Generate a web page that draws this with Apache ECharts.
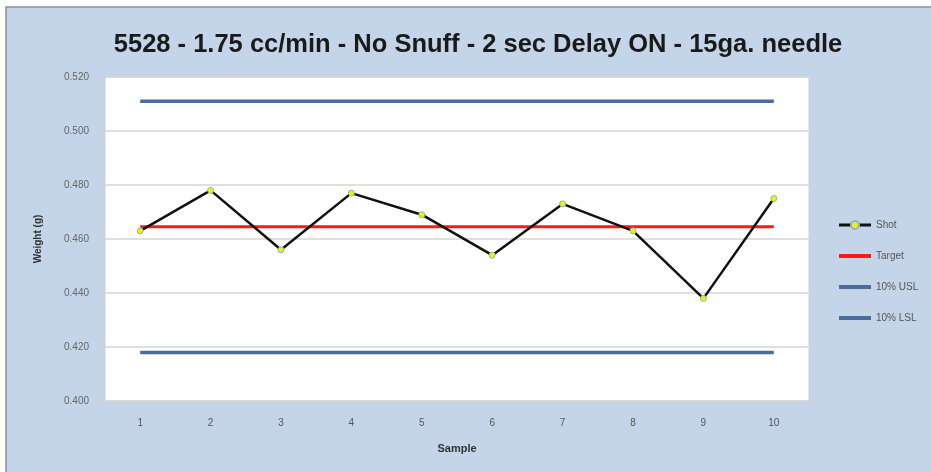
<!DOCTYPE html>
<html>
<head>
<meta charset="utf-8">
<script src="https://cdn.jsdelivr.net/npm/echarts@6/dist/echarts.min.js"></script>
<style>
  html, body { margin: 0; padding: 0; background: #fff; }
  #chart { width: 931px; height: 472px; }
</style>
</head>
<body>
<div id="chart"></div>
<script>
// data
var samples = ['1', '2', '3', '4', '5', '6', '7', '8', '9', '10'];
var shot = [0.463, 0.478, 0.456, 0.477, 0.469, 0.454, 0.473, 0.463, 0.438, 0.475];
var targetVal = 0.4645;
var uslVal = 0.511;
var lslVal = 0.418;

var target = samples.map(function () { return targetVal; });
var usl = samples.map(function () { return uslVal; });
var lsl = samples.map(function () { return lslVal; });

var chart = echarts.init(document.getElementById('chart'));

var noDot = { color: 'transparent', borderWidth: 0 };

var option = {
    backgroundColor: '#ffffff',
    animation: false,
    graphic: [{
        type: 'rect',
        z: -100,
        silent: true,
        shape: { x: 6, y: 7, width: 940, height: 480 },
        style: { fill: '#c4d5e9', stroke: '#8a8f96', lineWidth: 1.5 }
    }],
    title: {
        text: '5528 - 1.75 cc/min - No Snuff - 2 sec Delay ON - 15ga. needle',
        left: 473,
        top: 27,
        textAlign: 'center',
        textStyle: {
            fontFamily: 'Liberation Sans',
            fontSize: 25.5,
            fontWeight: 'bold',
            color: '#1a1a1a'
        }
    },
    legend: {
        orient: 'vertical',
        left: 832,
        top: 215,
        itemGap: 21,
        itemWidth: 32,
        itemHeight: 10,
        data: [
            { name: 'Shot', lineStyle: { width: 3 } },
            { name: 'Target', itemStyle: noDot, lineStyle: { width: 4 } },
            { name: '10% USL', itemStyle: noDot, lineStyle: { width: 4 } },
            { name: '10% LSL', itemStyle: noDot, lineStyle: { width: 4 } }
        ],
        textStyle: { fontFamily: 'Liberation Sans', fontSize: 10, color: '#555' }
    },
    grid: {
        left: 105,
        right: 122,
        top: 77,
        bottom: 71,
        show: true,
        backgroundColor: '#ffffff',
        borderColor: '#cfcfcf',
        borderWidth: 1
    },
    xAxis: {
        type: 'category',
        data: samples,
        boundaryGap: true,
        name: 'Sample',
        nameLocation: 'middle',
        nameGap: 42,
        nameTextStyle: { fontFamily: 'Liberation Sans', fontSize: 11, fontWeight: 'bold', color: '#333' },
        axisLine: { show: false },
        axisTick: { show: false },
        axisLabel: { margin: 17, fontFamily: 'Liberation Sans', fontSize: 10, color: '#555' }
    },
    yAxis: {
        type: 'value',
        min: 0.4,
        max: 0.52,
        interval: 0.02,
        name: 'Weight (g)',
        nameLocation: 'middle',
        nameGap: 62,
        nameTextStyle: { fontFamily: 'Liberation Sans', fontSize: 10, fontWeight: 'bold', color: '#333' },
        axisLine: { show: false },
        axisTick: { show: true, length: 5, lineStyle: { color: '#cfcfcf' } },
        splitLine: { lineStyle: { color: '#d4d4d4', width: 1.5 } },
        axisLabel: {
            margin: 16,
            fontFamily: 'Liberation Sans',
            fontSize: 10,
            color: '#666',
            formatter: function (v) { return v.toFixed(3); }
        }
    },
    series: [
        {
            name: 'Shot',
            type: 'line',
            data: shot,
            z: 5,
            symbol: 'circle',
            symbolSize: 6,
            lineStyle: { color: '#111', width: 2.5 },
            itemStyle: { color: '#f2f200', borderColor: '#8fb0d0', borderWidth: 1 }
        },
        {
            name: 'Target',
            type: 'line',
            data: target,
            z: 4,
            symbol: 'none',
            lineStyle: { color: '#ff1a1a', width: 3 },
            itemStyle: { color: '#ff1a1a' }
        },
        {
            name: '10% USL',
            type: 'line',
            data: usl,
            symbol: 'none',
            lineStyle: { color: '#4a6d9c', width: 3.5 },
            itemStyle: { color: '#4a6d9c' }
        },
        {
            name: '10% LSL',
            type: 'line',
            data: lsl,
            symbol: 'none',
            lineStyle: { color: '#4a6d9c', width: 3.5 },
            itemStyle: { color: '#4a6d9c' }
        }
    ]
};

chart.setOption(option);
</script>
</body>
</html>
